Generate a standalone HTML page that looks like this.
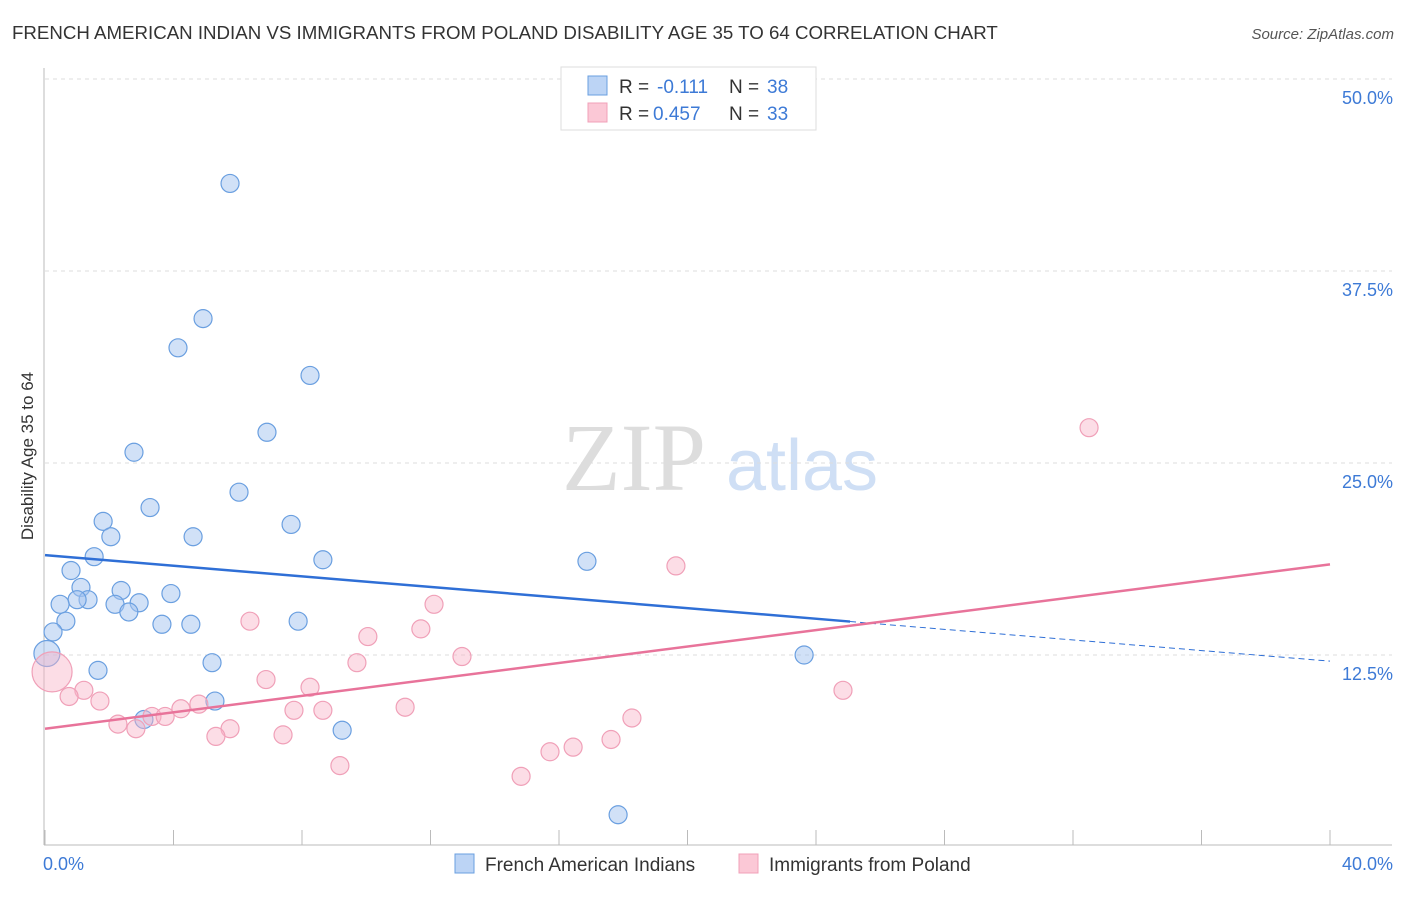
<!DOCTYPE html>
<html><head><meta charset="utf-8"><style>
body{margin:0;background:#fff;font-family:"Liberation Sans",sans-serif}
</style></head><body>
<svg id="c" width="1406" height="892" xmlns="http://www.w3.org/2000/svg" style="font-family:'Liberation Sans',sans-serif">
<text x="12" y="39" font-size="18.7" fill="#333">FRENCH AMERICAN INDIAN VS IMMIGRANTS FROM POLAND DISABILITY AGE 35 TO 64 CORRELATION CHART</text>
<text x="1394" y="39" font-size="15" fill="#555" font-style="italic" text-anchor="end">Source: ZipAtlas.com</text>
<text x="634" y="490" font-size="96" fill="#ddd" font-family="Liberation Serif" text-anchor="middle">ZIP</text>
<text x="802" y="490" font-size="72" fill="#cfdff5" text-anchor="middle">atlas</text>
<text transform="translate(33,456) rotate(-90)" font-size="17" fill="#333" text-anchor="middle">Disability Age 35 to 64</text>
<g id="grid"></g><g id="pts"></g><g id="lines"></g>
<g font-size="19">
<rect x="561" y="67" width="255" height="63" fill="#fff" stroke="#ddd"/>
<rect x="588" y="76" width="19" height="19" fill="#bcd4f5" stroke="#6a9fe0"/>
<rect x="588" y="103" width="19" height="19" fill="#fbc8d6" stroke="#f0a0b8"/>
<text x="619" y="93" fill="#333">R =</text><text x="657" y="93" fill="#3d7ad6">-0.111</text>
<text x="729" y="93" fill="#333">N =</text><text x="767" y="93" fill="#3d7ad6">38</text>
<text x="619" y="120" fill="#333">R =</text><text x="653" y="120" fill="#3d7ad6">0.457</text>
<text x="729" y="120" fill="#333">N =</text><text x="767" y="120" fill="#3d7ad6">33</text>
</g>
<g>
<rect x="455" y="854" width="19" height="19" fill="#bcd4f5" stroke="#6a9fe0"/>
<text x="485" y="871" font-size="19" fill="#333">French American Indians</text>
<rect x="739" y="854" width="19" height="19" fill="#fbc8d6" stroke="#f0a0b8"/>
<text x="769" y="871" font-size="19" fill="#333">Immigrants from Poland</text>
</g>
</svg>
<script>
const yTicks=[12.5,25,37.5,50];
const yTickLabels=["12.5%","25.0%","37.5%","50.0%"];
const xTickLabels=["0.0%","40.0%"];
const blueX=[5.76,4.92,4.14,8.25,6.91,2.77,6.04,3.27,1.81,7.66,2.05,4.61,1.53,8.65,16.87,0.81,1.12,2.37,1.34,1.0,0.47,2.18,2.93,2.61,3.92,0.65,3.64,4.54,7.88,0.25,0.06,23.63,5.2,1.65,5.29,3.08,9.25,17.84];
const blueY=[43.2,34.4,32.5,30.7,27.0,25.7,23.1,22.1,21.2,21.0,20.2,20.2,18.9,18.7,18.6,18.0,16.9,16.7,16.1,16.1,15.8,15.8,15.9,15.3,16.5,14.7,14.5,14.5,14.7,14.0,12.6,12.5,12.0,11.5,9.5,8.3,7.6,2.1];
const pinkX=[32.5,19.64,12.11,6.38,11.7,10.05,12.98,9.71,0.22,6.88,1.21,8.25,24.84,0.75,1.71,4.79,4.23,3.33,3.74,7.75,11.21,8.65,18.27,2.27,2.83,5.76,5.32,7.41,17.62,16.44,15.72,9.18,14.82];
const pinkY=[27.3,18.3,15.8,14.7,14.2,13.7,12.4,12.0,11.4,10.9,10.2,10.4,10.2,9.8,9.5,9.3,9.0,8.5,8.5,8.9,9.1,8.9,8.4,8.0,7.7,7.7,7.2,7.3,7.0,6.5,6.2,5.3,4.6];
const blueTrend=[19.0,12.1];
const pinkTrend=[7.7,18.4];
const blueSolidEnd=25.06;
const X=v=>45+v*32.125, Y=v=>847-v*15.36;
const NS="http://www.w3.org/2000/svg";
function mk(t,a,p){const e=document.createElementNS(NS,t);for(const k in a)e.setAttribute(k,a[k]);p.appendChild(e);return e;}
const g=document.getElementById('grid');
yTicks.forEach((t,i)=>{
 const l=mk('line',{x1:45,x2:1392,y1:Y(t),y2:Y(t),stroke:'#ddd','stroke-dasharray':'4,4'},g);
 
 
 const tx=mk('text',{x:1393,y:Y(t)+25,'font-size':18,fill:'#3d7ad6','text-anchor':'end'},g);tx.textContent=yTickLabels[i];
 
 
});
const ax=mk('line',{x1:44,x2:44,y1:68,y2:845,stroke:'#bbb'},g);


const bx=mk('line',{x1:44,x2:1392,y1:845,y2:845,stroke:'#bbb'},g);


for(let i=0;i<=10;i++){const t=mk('line',{x1:X(i*4),x2:X(i*4),y1:830,y2:845,stroke:'#bbb'},g);
 
 }
[[X(0)-2,'start',0],[1393,'end',1]].forEach(([x,a,i])=>{const t=mk('text',{x:x,y:870,'font-size':18,fill:'#3d7ad6','text-anchor':a},g);t.textContent=xTickLabels[i];
 
 });
const p=document.getElementById('pts');
blueX.forEach((v,i)=>{const c=mk('circle',{cx:X(v),cy:Y(blueY[i]),r:i==30?13:9,fill:'rgba(164,196,240,0.5)',stroke:'#6a9fe0','stroke-width':1.2},p);
 
 });
pinkX.forEach((v,i)=>{const c=mk('circle',{cx:X(v),cy:Y(pinkY[i]),r:i==8?20:9,fill:'rgba(248,180,200,0.45)',stroke:'#f0a0b8','stroke-width':1.2},p);
 
 });
const L=document.getElementById('lines');
const bAt=x=>blueTrend[0]+(blueTrend[1]-blueTrend[0])*x/40;
let a=mk('line',{x1:X(0),y1:Y(bAt(0)),x2:X(blueSolidEnd),y2:Y(bAt(blueSolidEnd)),stroke:'#2f6fd6','stroke-width':2.5},L);


a=mk('line',{x1:X(blueSolidEnd),y1:Y(bAt(blueSolidEnd)),x2:X(40),y2:Y(bAt(40)),stroke:'#2f6fd6','stroke-width':1,'stroke-dasharray':'6,4'},L);


a=mk('line',{x1:X(0),y1:Y(pinkTrend[0]),x2:X(40),y2:Y(pinkTrend[1]),stroke:'#e8739a','stroke-width':2.5},L);


</script>
</body></html>
